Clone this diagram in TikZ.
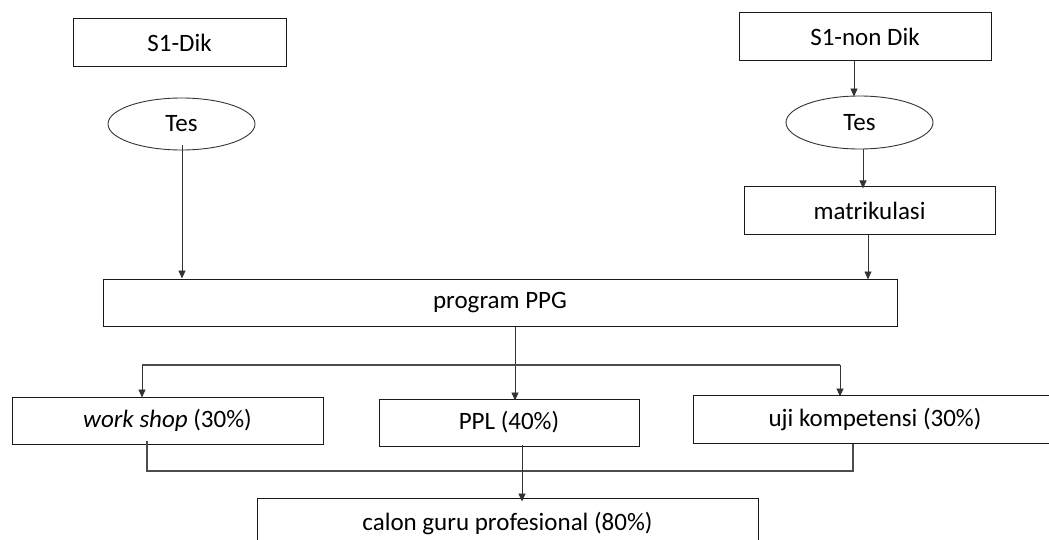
\documentclass[tikz,border=0pt]{standalone}
\usepackage{fontspec}
\setmainfont{Carlito}
\usetikzlibrary{arrows.meta,shapes.geometric,calc}
\begin{document}
\begin{tikzpicture}[x=1pt,y=-1pt,
  font=\fontsize{25}{30}\selectfont,
  box/.style={draw=black!90,line width=1pt,inner sep=0pt,anchor=center},
  oval/.style={draw=black!80,line width=0.9pt,ellipse,inner sep=0pt},
  arr/.style={draw=black!80,line width=0.9pt,-{Triangle[width=7pt,length=8pt]}},
  ln/.style={draw=black!70,line width=1.1pt}]
\useasboundingbox (0,0) rectangle (1049,540);
\clip (0,0) rectangle (1049,540);
% nodes
\node[box,minimum width=213pt,minimum height=48pt] (s1dik) at (179.5,43) {S1-Dik};
\node[oval,minimum width=147pt,minimum height=52pt] (tesL) at (181.5,124) {Tes};
\node[box,minimum width=252pt,minimum height=48pt] (s1non) at (865,37) {S1-non Dik};
\node[oval,minimum width=147pt,minimum height=53pt] (tesR) at (859.5,122.5) {Tes};
\node[box,minimum width=251pt,minimum height=47pt] (matr) at (869.5,210.5) {matrikulasi};
\node[box,minimum width=794pt,minimum height=47pt] (ppg) at (500,302.5) {program PPG};
\node[box,minimum width=311pt,minimum height=47pt] (ws) at (167.5,420.5) {\textit{work shop} (30\%)};
\node[box,minimum width=260pt,minimum height=47pt] (ppl) at (509,422.5) {PPL (40\%)};
\node[box,minimum width=364pt,minimum height=48pt] (uji) at (875,419) {uji kompetensi (30\%)};
\node[box,minimum width=501pt,minimum height=52pt] (calon) at (507.5,524) {calon guru profesional (80\%)};
% connectors
\draw[arr] ([xshift=0.5pt,yshift=5pt]tesL.south) -- ([xshift=0.5pt]tesL.south |- ppg.north);
\draw[arr] ([xshift=-11pt]s1non.south) -- ([xshift=-11pt,yshift=-1pt]s1non.south |- tesR.north);
\draw[arr] ([xshift=3.5pt]tesR.south) -- ([xshift=3.5pt,yshift=-2pt]tesR.south |- matr.north);
\draw[arr] ([xshift=-1.5pt]matr.south) -- ([xshift=-1.5pt,yshift=-1pt]matr.south |- ppg.north);
\draw[arr] ([xshift=15pt]ppg.south) -- ([xshift=15pt,yshift=-2pt]ppg.south |- ppl.north);
\coordinate (bl) at (142,365);
\coordinate (brr) at (840,365);
\draw[ln] (bl) -- (brr);
\draw[arr] (bl) -- ([yshift=-1pt]bl |- ws.north);
\draw[arr] (brr) -- ([yshift=-2pt]brr |- uji.north);
\coordinate (jl) at (147,471);
\coordinate (jr) at (853,471);
\draw[ln] ([yshift=4pt]jl |- ws.south) -- (jl) -- (jr) -- (jr |- uji.south);
\draw[arr] ([xshift=13pt,yshift=2pt]ppl.south) -- ([xshift=13pt,yshift=-4pt]ppl.south |- calon.north);
\end{tikzpicture}
\end{document}
